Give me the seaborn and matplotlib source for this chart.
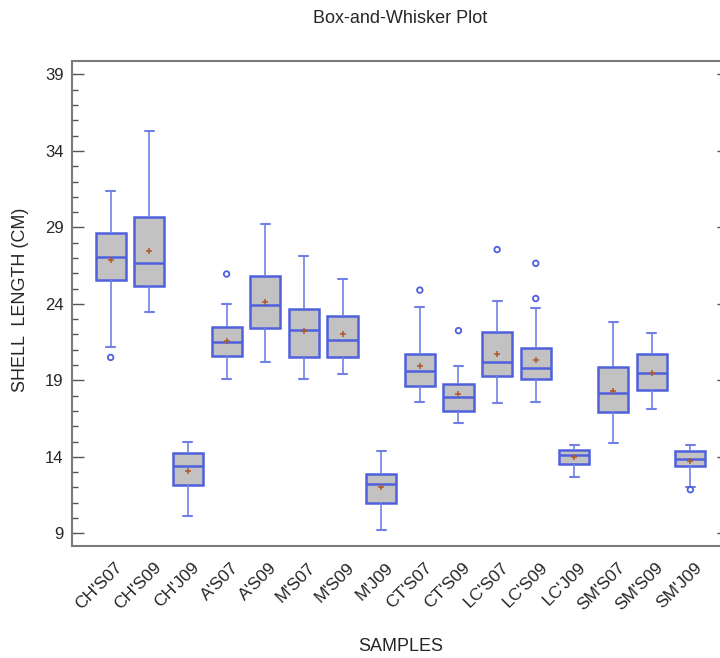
import numpy as np
import pandas as pd
import seaborn as sns
import matplotlib.pyplot as plt
from matplotlib.ticker import MultipleLocator
from matplotlib.transforms import ScaledTranslation

samples = ["CH'S07", "CH'S09", "CH'J09", "A'S07", "A'S09", "M'S07", "M'S09", "M'J09",
           "CT'S07", "CT'S09", "LC'S07", "LC'S09", "LC'J09", "SM'S07", "SM'S09", "SM'J09"]

# five-number summaries
whisker_low = [21.2, 23.5, 10.1, 19.1, 20.2, 19.1, 19.4, 9.2, 17.6, 16.2, 17.5, 17.6, 12.7, 14.9, 17.1, 12.05]
q1 = [25.55, 25.2, 12.15, 20.6, 22.4, 20.5, 20.5, 11.0, 18.65, 17.0, 19.3, 19.1, 13.55, 16.9, 18.35, 13.4]
median = [27.05, 26.7, 13.4, 21.5, 23.95, 22.3, 21.65, 12.2, 19.6, 17.9, 20.2, 19.8, 14.15, 18.15, 19.45, 13.85]
q3 = [28.65, 29.7, 14.25, 22.5, 25.8, 23.65, 23.2, 12.9, 20.75, 18.75, 22.15, 21.1, 14.45, 19.85, 20.75, 14.35]
whisker_high = [31.4, 35.3, 14.95, 24.0, 29.25, 27.1, 25.6, 14.4, 23.8, 19.95, 24.2, 23.7, 14.75, 22.8, 22.1, 14.8]
means = [26.9, 27.45, 13.1, 21.6, 24.1, 22.25, 22.0, 12.0, 19.95, 18.1, 20.7, 20.3, 14.0, 18.3, 19.45, 13.75]

outlier_samples = ["CH'S07", "A'S07", "CT'S07", "CT'S09", "LC'S07", "LC'S09", "LC'S09", "SM'J09"]
outlier_values = [20.5, 25.95, 24.9, 22.25, 27.55, 26.65, 24.35, 11.85]

BLUE = "#4f60dc"
WHISK = "#7080e6"
BROWN = "#b0582a"

# long table for seaborn: each sample's five numbers give back its quartiles exactly
rows = []
for i, s in enumerate(samples):
    for v in (whisker_low[i], q1[i], median[i], q3[i], whisker_high[i]):
        rows.append((s, v))
box_df = pd.DataFrame(rows, columns=["sample", "length"])
mean_df = pd.DataFrame({"sample": samples, "length": means})
out_df = pd.DataFrame({"sample": outlier_samples, "length": outlier_values})

sns.set_style("white")
plt.rcParams["font.family"] = ["Liberation Sans", "DejaVu Sans"]

fig = plt.figure(figsize=(7.2, 6.58), dpi=100)
ax = fig.add_axes([0.1, 0.1695, 0.9125, 0.7383])

sns.boxplot(
    data=box_df, x="sample", y="length", order=samples, ax=ax,
    color="#c2c2c2", linecolor=BLUE, linewidth=1.8, width=0.78,
    whis=np.inf, saturation=1, capwidths=0.23,
    whiskerprops={"color": WHISK, "linewidth": 1.2},
    capprops={"color": WHISK, "linewidth": 1.5},
    medianprops={"color": BLUE, "linewidth": 1.8},
    boxprops={"edgecolor": BLUE},
)

# outliers as small open circles
n_before = len(ax.collections)
sns.stripplot(
    data=out_df, x="sample", y="length", order=samples, ax=ax,
    jitter=False, color=BLUE, size=4, linewidth=1.3, edgecolor=BLUE, zorder=4,
)
for coll in ax.collections[n_before:]:
    coll.set_facecolor("none")
    coll.set_edgecolor(BLUE)

# means as small brown crosses
sns.stripplot(
    data=mean_df, x="sample", y="length", order=samples, ax=ax,
    jitter=False, marker="+", color=BROWN, size=4, linewidth=1.1, zorder=5,
)

ax.set_xlim(-1, 16)
ax.set_ylim(8.14, 39.9)
ax.yaxis.set_minor_locator(MultipleLocator(1))
ax.set_yticks(np.arange(9, 40, 5))

ax.tick_params(axis="y", which="major", direction="in", length=8.5, width=1, color="#555555",
               left=True, right=True, labelsize=12, pad=6)
ax.tick_params(axis="y", which="minor", direction="in", length=4.3, width=1, color="#555555",
               left=True, right=False)
ax.tick_params(axis="x", which="both", bottom=False, top=False, labelsize=12.5, pad=4)

ax.set_xticks(range(len(samples)))
ax.set_xticklabels(samples, rotation=45, ha="right", rotation_mode="anchor")
shift = ScaledTranslation(4 / 100, -3 / 100, fig.dpi_scale_trans)
for lab in ax.get_xticklabels():
    lab.set_transform(lab.get_transform() + shift)

for side in ["left", "top", "bottom", "right"]:
    ax.spines[side].set_color("#7a7a7a")
    ax.spines[side].set_linewidth(1.5)

ax.set_xlabel("SAMPLES", fontsize=13)
ax.xaxis.set_label_coords(0.5, -0.205)
ax.xaxis.label.set_va("center")
ax.set_ylabel("SHELL  LENGTH (CM)", fontsize=13)
ax.yaxis.set_label_coords(-0.079, 0.507)
ax.yaxis.label.set_va("center")

ax.set_title("Box-and-Whisker Plot", fontsize=13, pad=27)

fig.savefig("out.png", dpi=100)
